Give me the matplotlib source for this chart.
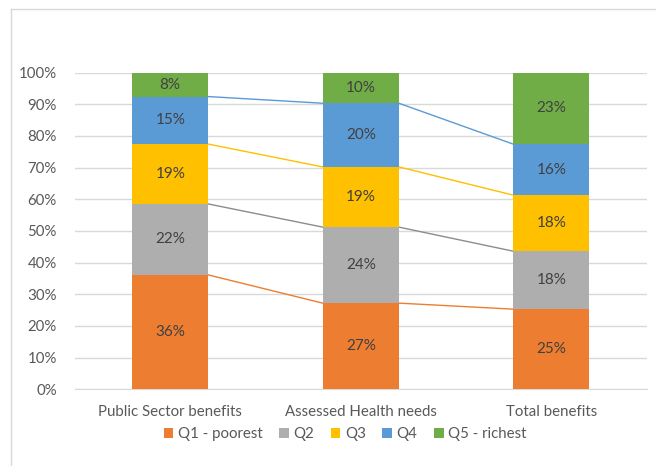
import matplotlib
matplotlib.use("Agg")
import matplotlib.pyplot as plt
from matplotlib.lines import Line2D
from matplotlib.patches import Patch
import numpy as np

categories = ["Public Sector benefits", "Assessed Health needs", "Total benefits"]
series_names = ["Q1 - poorest", "Q2", "Q3", "Q4", "Q5 - richest"]
q1 = [36.1, 27.2, 25.3]
q2 = [22.4, 24.0, 18.3]
q3 = [18.9, 19.0, 17.7]
q4 = [15.0, 20.1, 16.1]
q5 = [7.6, 9.7, 22.6]
colors = ["#ED7D31", "#AEAEAE", "#FFC000", "#5B9BD5", "#70AD47"]
yticks = [0, 10, 20, 30, 40, 50, 60, 70, 80, 90, 100]

plt.rcParams['font.family'] = ['Lato', 'DejaVu Sans']

W, H = 656, 466
fig = plt.figure(figsize=(W / 100, H / 100), dpi=100)
ax = fig.add_axes([75 / W, 1 - 389.3 / H, (646.5 - 75) / W, (389.3 - 72.5) / H])

data = [q1, q2, q3, q4, q5]
x = np.arange(len(categories))
bw = 0.4
bottom = np.zeros(len(categories))
tops = []
for vals, col in zip(data, colors):
    vals = np.array(vals)
    ax.bar(x, vals, bw, bottom=bottom, color=col, zorder=3, linewidth=0)
    for xi, b, v in zip(x, bottom, vals):
        ax.text(xi, b + v / 2, f"{v:.0f}%", ha="center", va="center",
                fontsize=11, color="#404040", zorder=4)
    bottom = bottom + vals
    tops.append(bottom.copy())

# series lines connecting segment tops
for k in range(4):
    for i in range(len(categories) - 1):
        ax.plot([x[i] + bw / 2, x[i + 1] - bw / 2], [tops[k][i], tops[k][i + 1]],
                color=colors[k] if k != 1 else "#8C8C8C", lw=1.0, zorder=2)

ax.set_xlim(-0.5, 2.5)
ax.set_ylim(0, 100)
ax.set_yticks(yticks)
ax.set_yticklabels([f"{t}%" for t in yticks])
ax.set_xticks(x)
ax.set_xticklabels(categories)
ax.grid(axis="y", color="#D9D9D9", lw=1.0, zorder=0)
for s in ["top", "right", "left"]:
    ax.spines[s].set_visible(False)
ax.spines["bottom"].set_color("#D9D9D9")
ax.tick_params(axis="both", length=0, labelsize=10.8, colors="#595959")
ax.tick_params(axis="y", pad=13)
ax.tick_params(axis="x", pad=11)

handles = [Patch(facecolor=c, edgecolor="none") for c in colors]
fig.legend(handles, series_names, loc="center", bbox_to_anchor=(345 / W, 1 - 434 / H),
           ncol=5, frameon=False, fontsize=10.8, handlelength=0.65, handleheight=0.65,
           handletextpad=0.3, columnspacing=1.1, labelcolor="#595959")

fig.add_artist(Line2D([11 / W, 1], [1 - 9 / H, 1 - 9 / H], color="#D9D9D9", lw=1.0))
fig.add_artist(Line2D([11 / W, 11 / W], [1 - 9 / H, 1 - 465 / H], color="#D9D9D9", lw=1.0))

fig.savefig("out.png", dpi=100)
